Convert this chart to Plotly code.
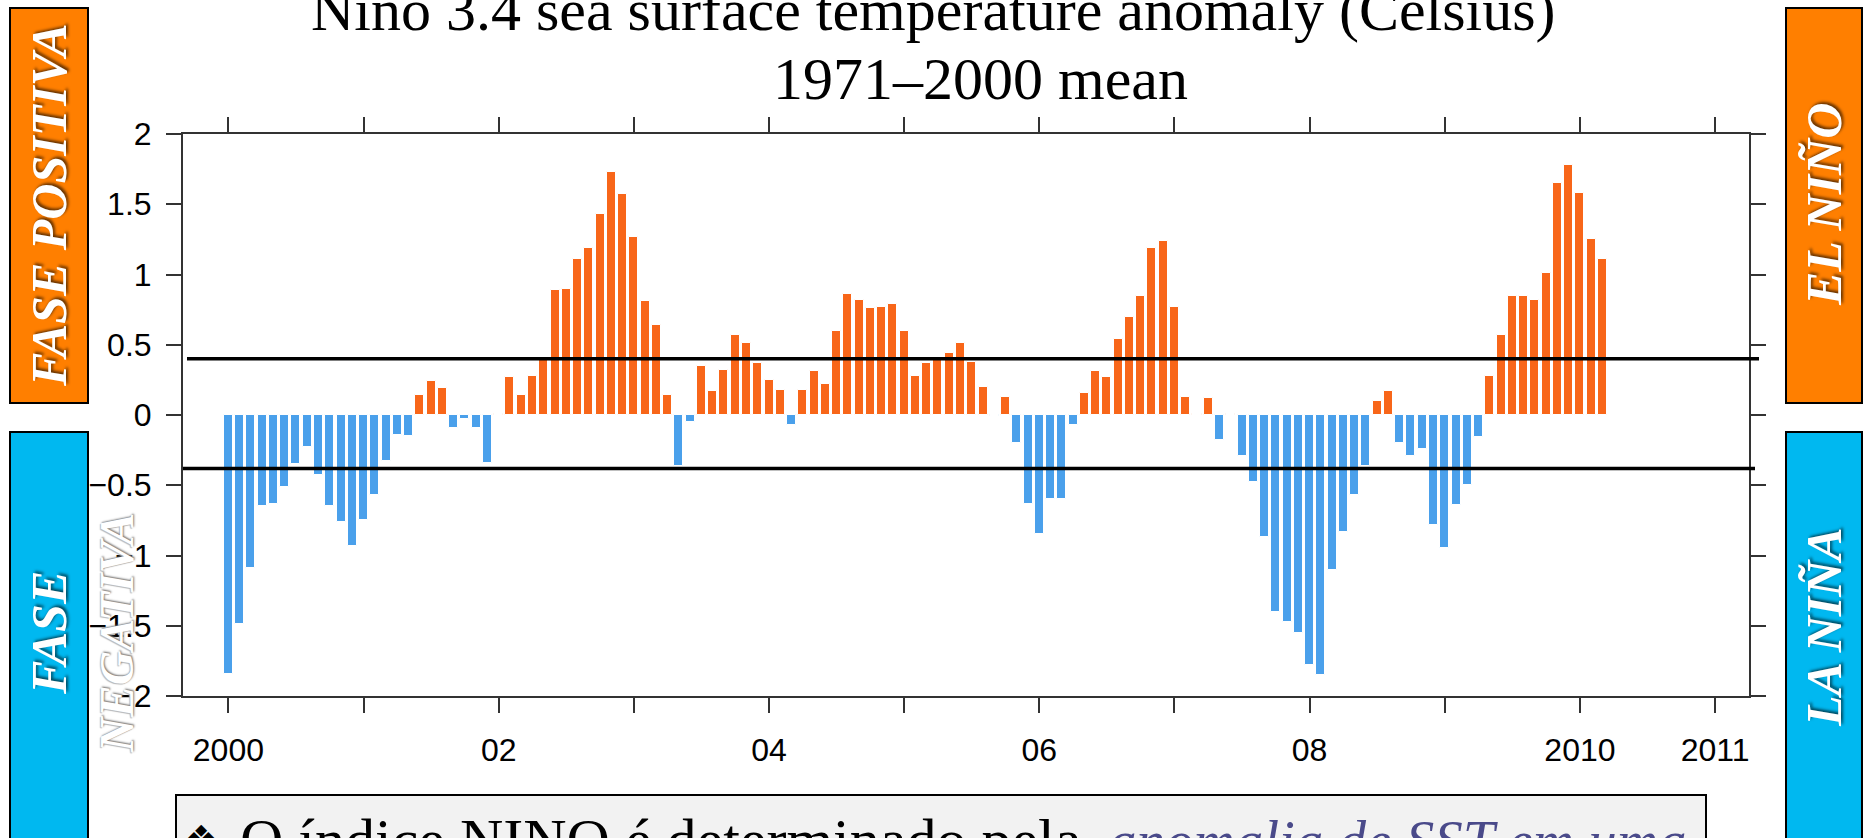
import plotly.graph_objects as go

# Nino 3.4 monthly SST anomaly (deg C), 1971-2000 base, Jan 2000 - Mar 2010
years = [2000, 2001, 2002, 2003, 2004, 2005, 2006, 2007, 2008, 2009, 2010]
a2000 = [-1.84, -1.49, -1.09, -0.65, -0.63, -0.51, -0.35, -0.23, -0.43, -0.65, -0.76, -0.93]
a2001 = [-0.75, -0.57, -0.33, -0.14, -0.15, 0.14, 0.24, 0.19, -0.09, -0.03, -0.09, -0.34]
a2002 = [0.01, 0.27, 0.14, 0.28, 0.39, 0.89, 0.90, 1.11, 1.19, 1.43, 1.73, 1.57]
a2003 = [1.27, 0.81, 0.64, 0.14, -0.36, -0.05, 0.35, 0.17, 0.32, 0.57, 0.51, 0.37]
a2004 = [0.25, 0.18, -0.07, 0.18, 0.31, 0.22, 0.60, 0.86, 0.82, 0.76, 0.77, 0.79]
a2005 = [0.60, 0.28, 0.37, 0.40, 0.44, 0.51, 0.38, 0.20, -0.01, 0.13, -0.20, -0.63]
a2006 = [-0.85, -0.60, -0.60, -0.07, 0.16, 0.31, 0.27, 0.54, 0.70, 0.85, 1.19, 1.24]
a2007 = [0.77, 0.13, 0.005, 0.12, -0.18, 0.01, -0.29, -0.48, -0.87, -1.40, -1.47, -1.55]
a2008 = [-1.78, -1.85, -1.10, -0.83, -0.57, -0.36, 0.10, 0.17, -0.20, -0.29, -0.24, -0.78]
a2009 = [-0.95, -0.64, -0.50, -0.16, 0.28, 0.57, 0.85, 0.85, 0.82, 1.01, 1.65, 1.78]
a2010 = [1.58, 1.25, 1.11]
by_year = [a2000, a2001, a2002, a2003, a2004, a2005, a2006, a2007, a2008, a2009, a2010]

thresh_hi = 0.4
thresh_lo = -0.38

xtick_vals = list(range(2000, 2012))
xtick_text = ['2000', '', '02', '', '04', '', '06', '', '08', '', '2010', '2011']
ytick_vals = [2, 1.5, 1, 0.5, 0, -0.5, -1, -1.5, -2]
ytick_text = ['2', '1.5', '1', '0.5', '0', '\u22120.5', '\u22121', '\u22121.5', '\u22122']

ORANGE = '#F86619'
BLUE = '#4AA0EB'

x, y = [], []
for yr, vals in zip(years, by_year):
    for m, v in enumerate(vals):
        x.append(yr + m / 12)
        y.append(v)
colors = [ORANGE if v >= 0 else BLUE for v in y]

W, H = 1863, 838
L, R, T, B = 183, 1749, 134, 696  # plot area in pixels


def px(X):
    return (X - L) / (R - L)


def py(Y):
    return (B - Y) / (B - T)


fig = go.Figure()
fig.add_trace(go.Bar(x=x, y=y, width=0.8 / 12,
                     marker=dict(color=colors, line=dict(color='white', width=1))))

# threshold lines (they run a little past the frame, as in the original)
fig.add_shape(type='line', xref='paper', yref='y', x0=px(187), x1=px(1759),
              y0=thresh_hi, y1=thresh_hi, line=dict(color='black', width=3.5))
fig.add_shape(type='line', xref='paper', yref='y', x0=px(183), x1=px(1755),
              y0=thresh_lo, y1=thresh_lo, line=dict(color='black', width=3.5))

shapes = [
    dict(x0=px(10), x1=px(88), y0=py(8), y1=py(403), fillcolor='#FF7F00'),
    dict(x0=px(10), x1=px(88), y0=py(432), y1=py(900), fillcolor='#00B8F0'),
    dict(x0=px(1786), x1=px(1862), y0=py(8), y1=py(403), fillcolor='#FF7F00'),
    dict(x0=px(1786), x1=px(1862), y0=py(432), y1=py(900), fillcolor='#00B8F0'),
    dict(x0=px(176), x1=px(1706), y0=py(795), y1=py(900), fillcolor='#F2F2F2'),
]
for s in shapes:
    fig.add_shape(type='rect', xref='paper', yref='paper', layer='above',
                  line=dict(color='black', width=2), **s)

serif = 'Liberation Serif'
box_font = dict(family=serif, size=50, color='white', shadow='2px 2px 3px rgba(0,0,0,0.6)')

notes = [
    dict(text='Nino 3.4 sea surface temperature anomaly (Celsius)', x=px(933), y=py(10),
         font=dict(family=serif, size=60, color='black')),
    dict(text='1971\u20132000 mean', x=px(980), y=py(79),
         font=dict(family=serif, size=60, color='black')),
    dict(text='<b><i>FASE POSITIVA</i></b>', x=px(49), y=py(205), textangle=-90, font=box_font),
    dict(text='<b><i>FASE</i></b>', x=px(49), y=py(633), textangle=-90, font=box_font),
    dict(text='<b><i>NEGATIVA</i></b>', x=px(116), y=py(633), textangle=-90,
         font=dict(family=serif, size=48, color='white',
                   shadow='1px 1px 2px #777, -1px -1px 1px #bbb')),
    dict(text='<b><i>EL NI\u00d1O</i></b>', x=px(1824), y=py(205), textangle=-90, font=box_font),
    dict(text='<b><i>LA NI\u00d1A</i></b>', x=px(1824), y=py(627), textangle=-90, font=box_font),
    dict(text='\u2756', x=px(201), y=py(838), font=dict(family='DejaVu Sans', size=36, color='black')),
    dict(text='O \u00edndice NINO \u00e9 determinado pela', x=px(238), y=py(840),
         xanchor='left', font=dict(family=serif, size=60, color='black')),
    dict(text='<i>anomalia de SST em uma</i>', x=px(1688), y=py(840),
         xanchor='right', font=dict(family=serif, size=57, color='#4A4A8A')),
]
for n in notes:
    n.setdefault('xanchor', 'center')
    fig.add_annotation(xref='paper', yref='paper', yanchor='middle', showarrow=False, **n)

axis_common = dict(showline=True, linecolor='#333', linewidth=2, mirror='ticks',
                   ticks='outside', ticklen=15, tickwidth=1.5, tickcolor='#333',
                   showgrid=False, zeroline=False,
                   tickfont=dict(family='Liberation Sans', size=32, color='black'))
fig.update_xaxes(range=[1999.664, 2011.251], tickvals=xtick_vals, ticktext=xtick_text,
                 ticklabelstandoff=10, **axis_common)
fig.update_yaxes(range=[-2, 2], tickvals=ytick_vals, ticktext=ytick_text,
                 ticklabelstandoff=8, **axis_common)

fig.update_layout(width=W, height=H, autosize=False, showlegend=False,
                  margin=dict(l=L, r=W - R, t=T, b=H - B, pad=0),
                  plot_bgcolor='white', paper_bgcolor='white', bargap=0)

fig.write_html("out.html", config={'displayModeBar': False},
               post_script="document.body.style.margin='0';document.body.style.overflow='hidden';")
